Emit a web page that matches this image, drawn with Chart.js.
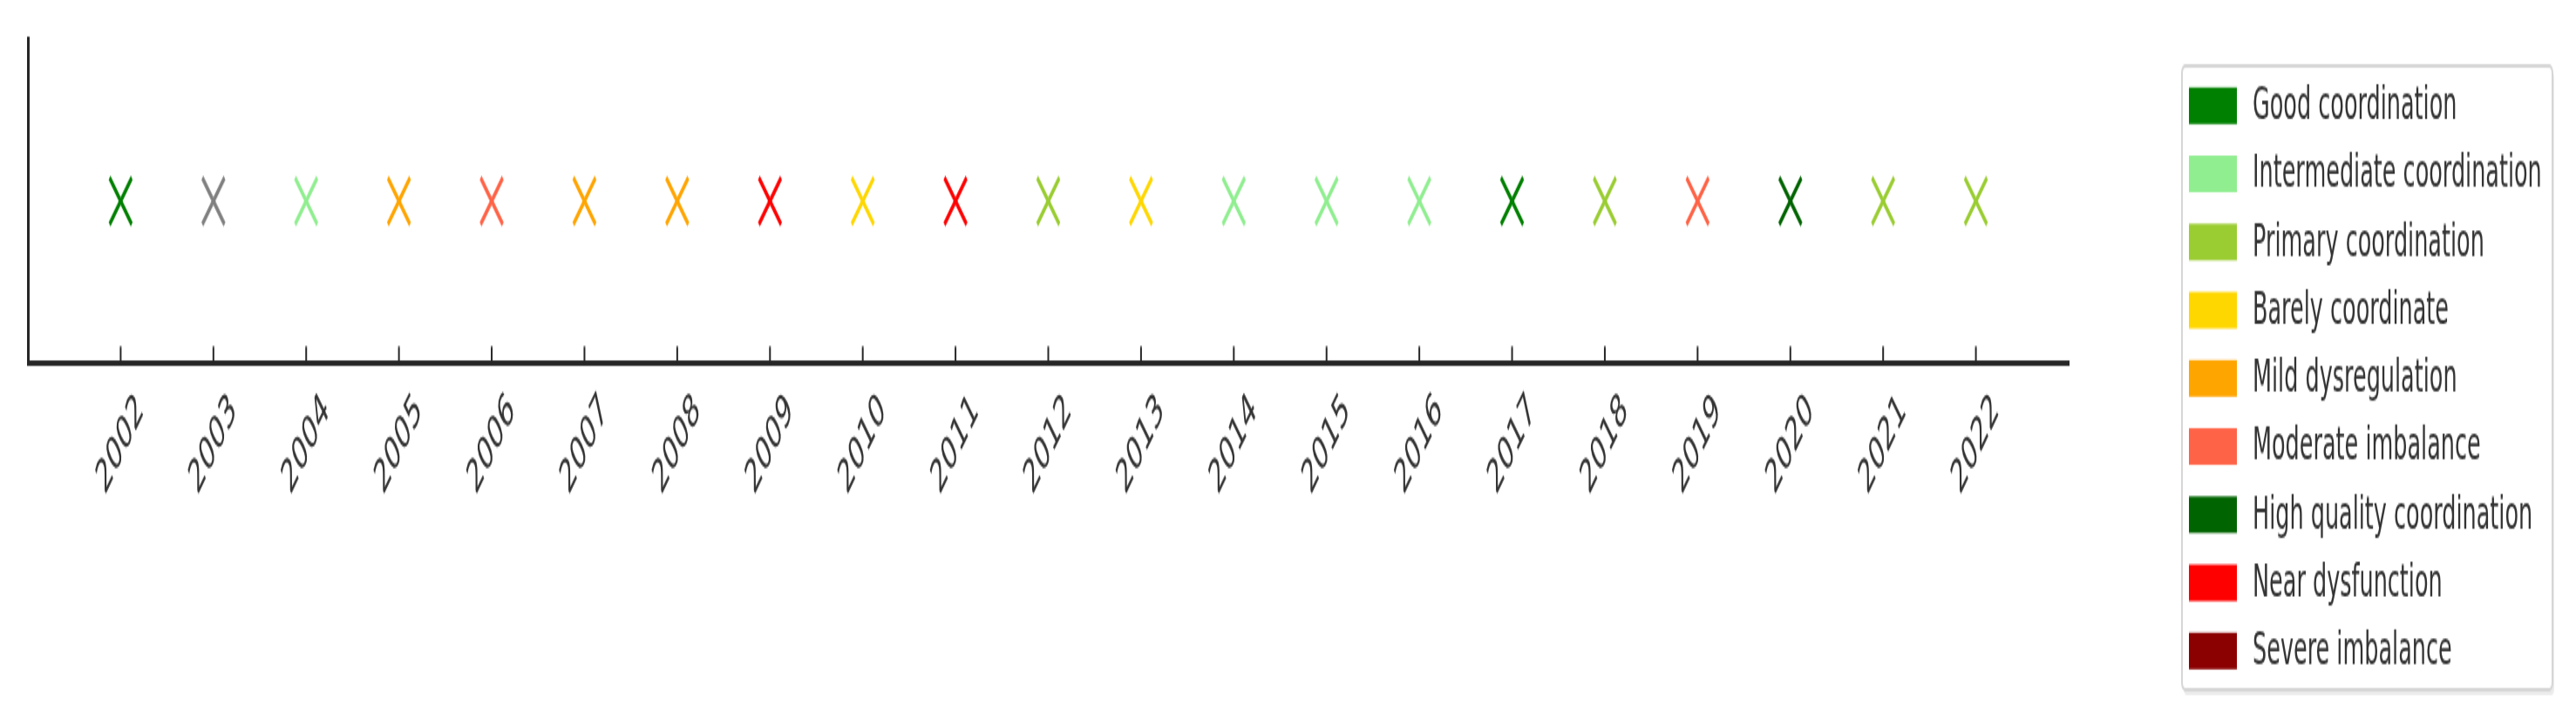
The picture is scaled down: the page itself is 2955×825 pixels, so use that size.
<!DOCTYPE html>
<html>
<head>
<meta charset="utf-8">
<script src="https://cdn.jsdelivr.net/npm/chart.js@4.4.1/dist/chart.umd.min.js"></script>
<style>
  html, body { margin: 0; padding: 0; background: #fff; overflow: hidden; }
  #wrap { width: 2955px; height: 825px; overflow: hidden; }
  /* the reference is stretched vertically, so draw flat and stretch */
  #chart { display: block; transform-origin: 0 0; transform: scaleY(2.0992); }
</style>
</head>
<body>
<div id="wrap"><canvas id="chart" width="2955" height="393"></canvas></div>
<script>
(function () {
  'use strict';

  /* Years on the x axis */
  var YEARS = [2002, 2003, 2004, 2005, 2006, 2007, 2008, 2009, 2010, 2011, 2012,
               2013, 2014, 2015, 2016, 2017, 2018, 2019, 2020, 2021, 2022];

  /* Coordination status for each year (2003 has no class, drawn grey) */
  var YEAR_STATUS = [
    'Good coordination', 'Unclassified', 'Intermediate coordination', 'Mild dysregulation',
    'Moderate imbalance', 'Mild dysregulation', 'Mild dysregulation', 'Near dysfunction',
    'Barely coordinate', 'Near dysfunction', 'Primary coordination', 'Barely coordinate',
    'Intermediate coordination', 'Intermediate coordination', 'Intermediate coordination',
    'Good coordination', 'Primary coordination', 'Moderate imbalance',
    'High quality coordination', 'Primary coordination', 'Primary coordination'
  ];

  /* All markers sit on one row */
  var LEVEL = [0, 0, 0, 0, 0, 0, 0, 0, 0, 0, 0, 0, 0, 0, 0, 0, 0, 0, 0, 0, 0];

  var LEGEND_LABELS = [
    'Good coordination', 'Intermediate coordination', 'Primary coordination',
    'Barely coordinate', 'Mild dysregulation', 'Moderate imbalance',
    'High quality coordination', 'Near dysfunction', 'Severe imbalance'
  ];
  var LEGEND_COLORS = ['#008000', '#90ee90', '#9acd32', '#ffd700', '#ffa500',
                       '#ff6347', '#006400', '#ff0000', '#8b0000'];
  var UNCLASSIFIED_COLOR = '#808080';

  var X_MIN = 2001, X_MAX = 2023;
  var Y_MIN = -1, Y_MAX = 1;

  var FONT = '"DejaVu Sans", "Liberation Sans", sans-serif';
  var INK = '#262626';

  function statusColor(s) {
    var i = LEGEND_LABELS.indexOf(s);
    return i >= 0 ? LEGEND_COLORS[i] : UNCLASSIFIED_COLOR;
  }

  var colors = YEAR_STATUS.map(statusColor);
  var points = YEARS.map(function (yr, i) { return { x: yr, y: LEVEL[i] }; });

  /* Inward tick marks and centred, rotated year labels */
  var axisDecor = {
    id: 'axisDecor',
    afterDraw: function (chart) {
      var ctx = chart.ctx, xs = chart.scales.x, area = chart.chartArea;
      ctx.save();
      ctx.strokeStyle = INK;
      ctx.lineWidth = 2;
      xs.ticks.forEach(function (t) {
        var px = xs.getPixelForValue(t.value);
        ctx.beginPath();
        ctx.moveTo(px, area.bottom);
        ctx.lineTo(px, area.bottom - 9);
        ctx.stroke();
      });
      ctx.fillStyle = '#333';
      ctx.font = '25.5px ' + FONT;
      ctx.textAlign = 'center';
      ctx.textBaseline = 'middle';
      xs.ticks.forEach(function (t) {
        var px = xs.getPixelForValue(t.value);
        ctx.save();
        ctx.translate(px, area.bottom + 45);
        ctx.rotate(-Math.PI / 4);
        ctx.fillText(String(t.value), 0, 0);
        ctx.restore();
      });
      ctx.restore();
    }
  };

  /* Framed legend on the right */
  var legendBox = {
    id: 'legendBox',
    afterDraw: function (chart) {
      var ctx = chart.ctx;
      var bx = 2503, by = 36, bw = 425, bh = 341;
      ctx.save();
      ctx.fillStyle = '#ececec';
      ctx.beginPath(); ctx.roundRect(bx + 2, by + 3, bw, bh, 4); ctx.fill();
      ctx.fillStyle = '#fff';
      ctx.strokeStyle = '#d6d6d6';
      ctx.lineWidth = 2;
      ctx.beginPath(); ctx.roundRect(bx, by, bw, bh, 4); ctx.fill(); ctx.stroke();

      ctx.font = '25.5px ' + FONT;
      ctx.textAlign = 'left';
      ctx.textBaseline = 'middle';
      LEGEND_LABELS.forEach(function (lab, i) {
        var cy = 57.8 + i * 37.25;
        ctx.fillStyle = LEGEND_COLORS[i];
        ctx.fillRect(2511, cy - 10, 55, 20);
        ctx.fillStyle = '#333';
        ctx.fillText(lab, 2584, cy + 0.8);
      });
      ctx.restore();
    }
  };

  new Chart(document.getElementById('chart'), {
    type: 'scatter',
    data: {
      datasets: [{
        data: points,
        pointStyle: 'crossRot',
        pointRadius: 18,
        pointBorderWidth: 3,
        pointBorderColor: colors,
        pointBackgroundColor: colors,
        showLine: false
      }]
    },
    options: {
      responsive: false,
      devicePixelRatio: 1,
      animation: false,
      events: [],
      layout: { padding: { left: 32, right: 582, top: 21.4, bottom: 194.7 } },
      plugins: { legend: { display: false }, tooltip: { enabled: false } },
      scales: {
        x: {
          type: 'linear',
          min: X_MIN,
          max: X_MAX,
          afterBuildTicks: function (scale) {
            scale.ticks = YEARS.map(function (y) { return { value: y }; });
          },
          ticks: { display: false },
          grid: { drawOnChartArea: false, drawTicks: false },
          border: { display: true, color: INK, width: 3 }
        },
        y: {
          type: 'linear',
          min: Y_MIN,
          max: Y_MAX,
          ticks: { display: false },
          grid: { drawOnChartArea: false, drawTicks: false },
          border: { display: true, color: INK, width: 3 }
        }
      }
    },
    plugins: [axisDecor, legendBox]
  });
})();
</script>
</body>
</html>
